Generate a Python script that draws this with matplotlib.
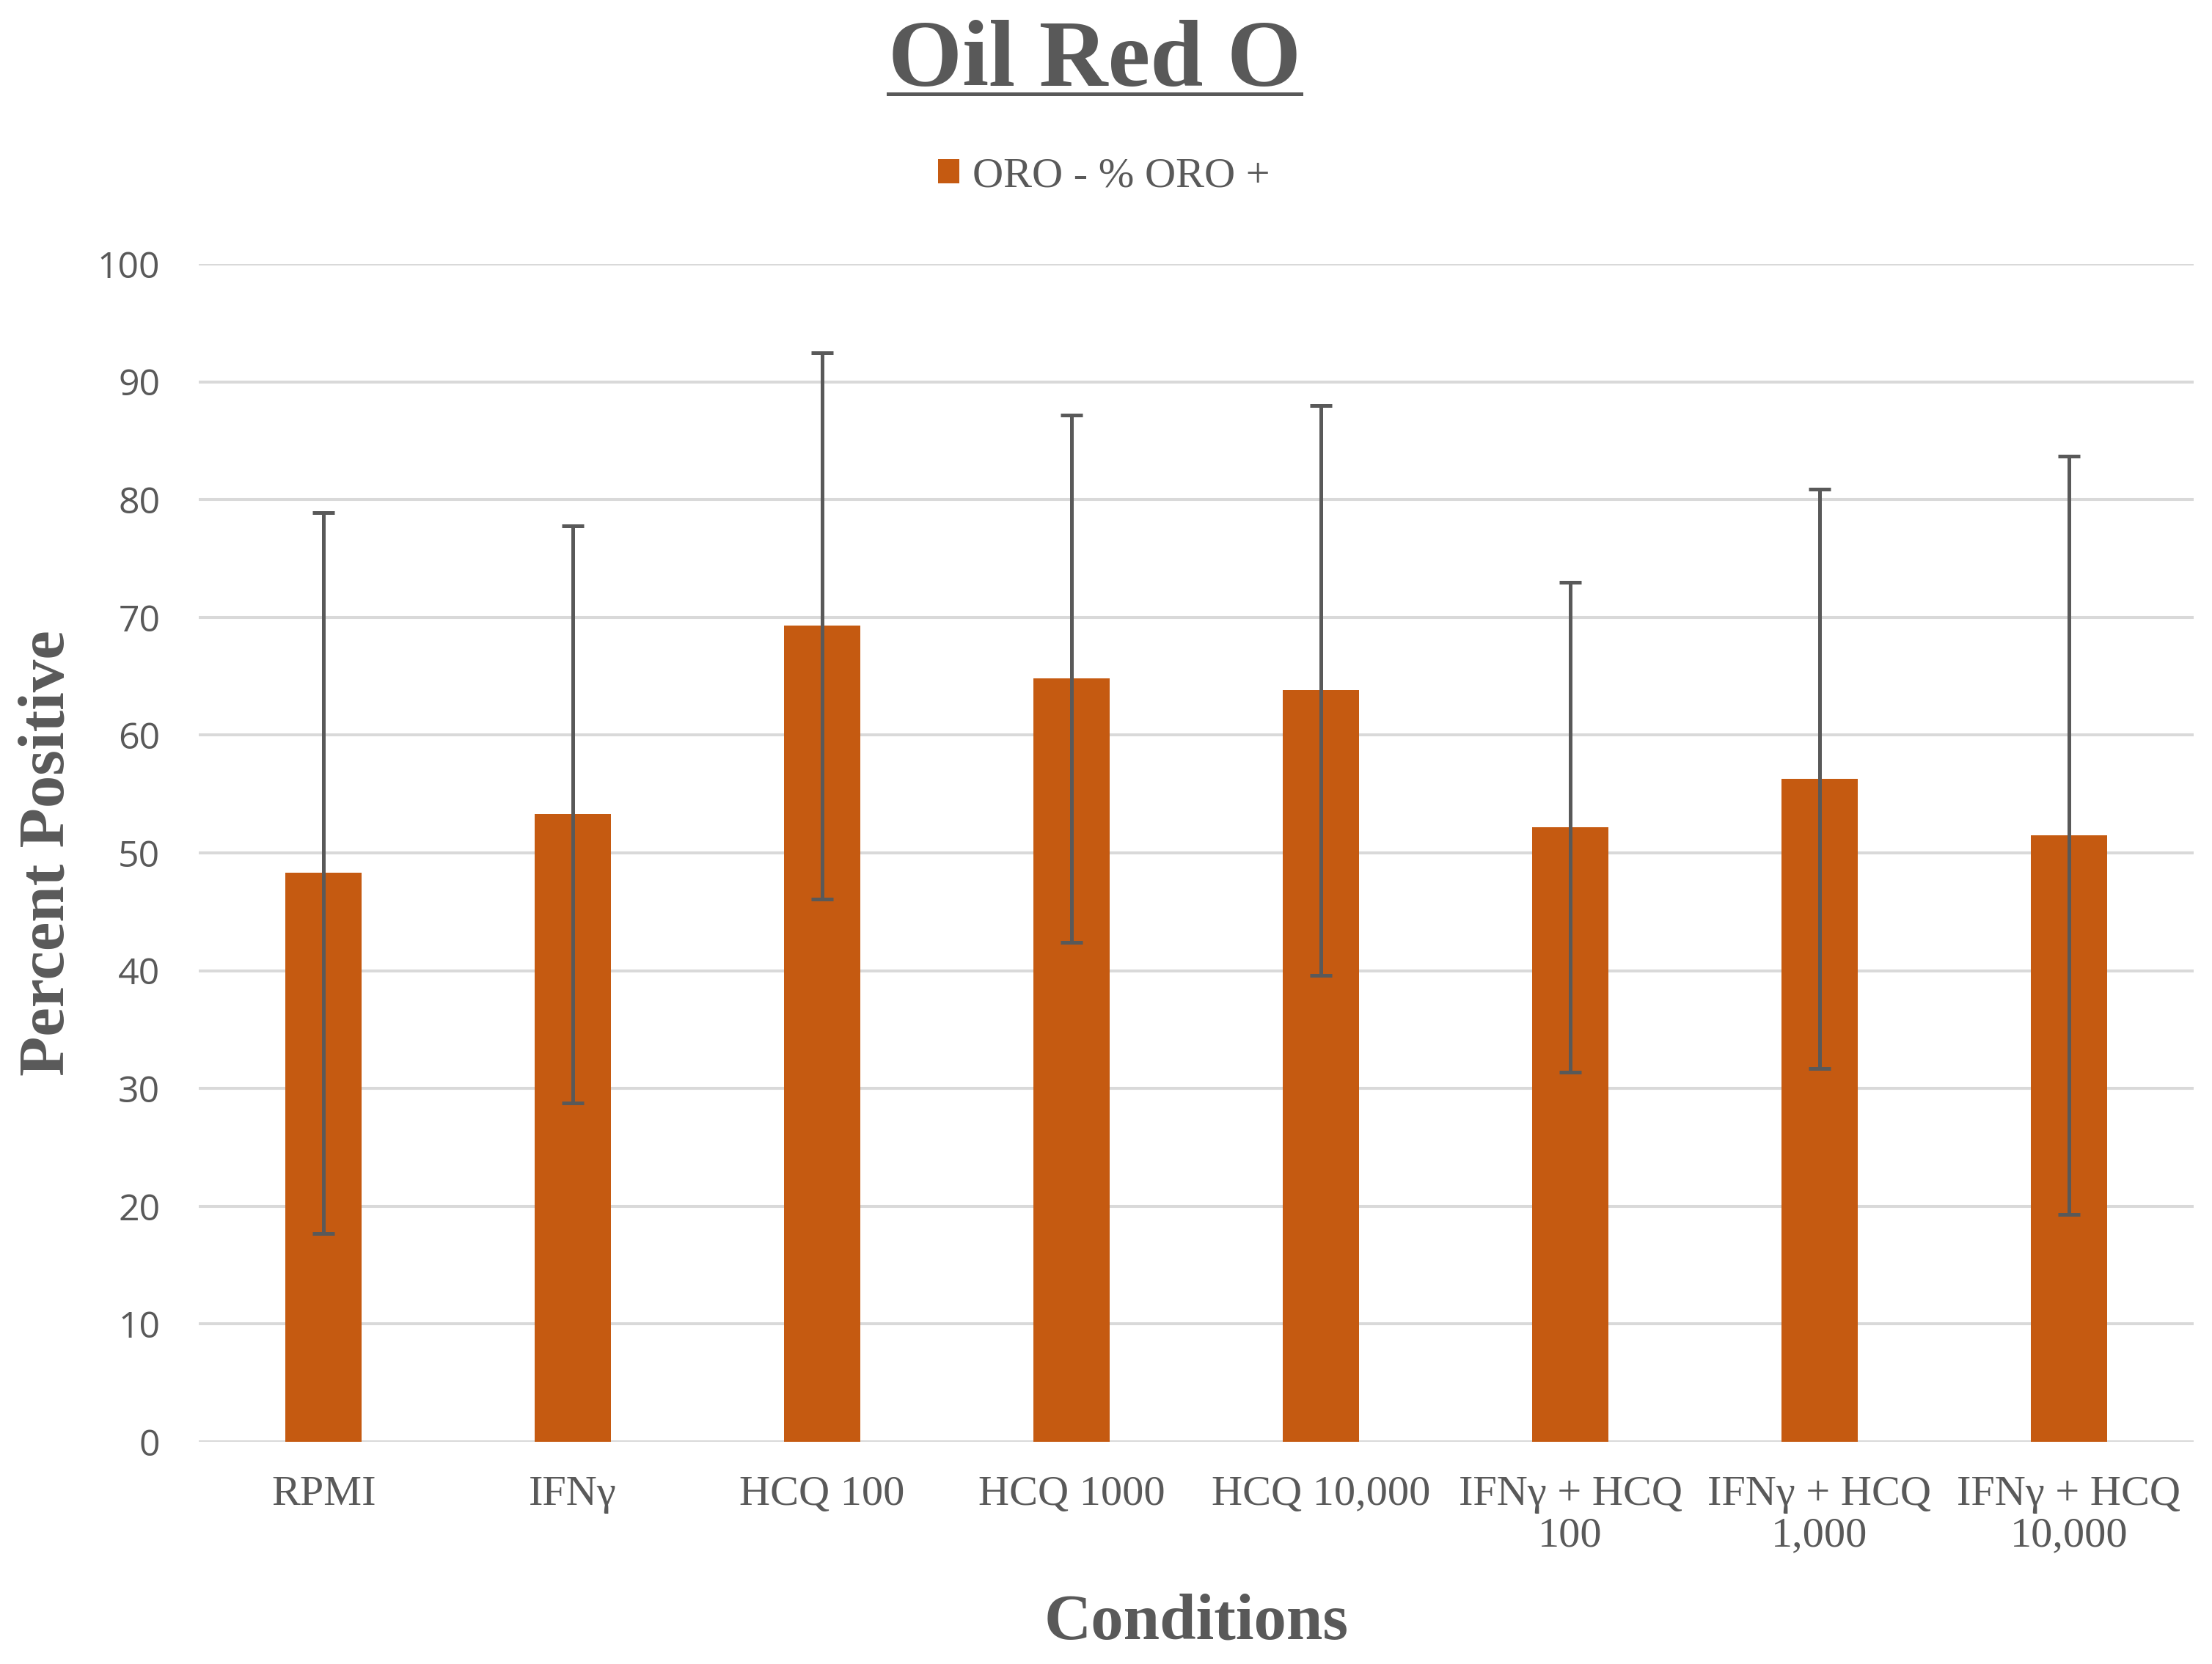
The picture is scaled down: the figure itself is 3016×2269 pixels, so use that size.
import matplotlib.pyplot as plt
from matplotlib.lines import Line2D
import numpy as np

conditions = ["RPMI", "IFNγ", "HCQ 100", "HCQ 1000", "HCQ 10,000",
              "IFNγ + HCQ\n100", "IFNγ + HCQ\n1,000", "IFNγ + HCQ\n10,000"]
percent_pos = [48.3, 53.3, 69.3, 64.8, 63.8, 52.2, 56.3, 51.5]
errors = [30.6, 24.5, 23.2, 22.4, 24.2, 20.8, 24.6, 32.2]
yticks = [0, 10, 20, 30, 40, 50, 60, 70, 80, 90, 100]

barColor = "#C55A11"
textColor = "#595959"
gridColor = "#D9D9D9"
serif = "Liberation Serif"

fig = plt.figure(figsize=(30.16, 22.69), dpi=100)
ax = fig.add_axes([0.0899, 0.1335, 0.9018, 0.7078])

x = np.arange(len(conditions))
ax.bar(x, percent_pos, width=0.306, color=barColor, zorder=2, label="ORO - % ORO +")
ax.errorbar(x, percent_pos, yerr=errors, fmt="none", ecolor=textColor,
            elinewidth=3.6, capsize=11, capthick=3.6, zorder=3)

ax.set_xlim(-0.5, len(conditions) - 0.5)
ax.set_ylim(0, 100)
ax.set_yticks(yticks)
ax.yaxis.grid(True, color=gridColor, linewidth=2.9, zorder=0)
ax.set_axisbelow(True)
for s in ax.spines.values():
    s.set_visible(False)
ax.tick_params(axis="both", length=0)
ax.tick_params(axis="y", pad=38)
ax.tick_params(axis="x", pad=33)

ax.set_xticks(x)
ax.set_xticklabels(conditions, fontfamily=serif, fontsize=42, color=textColor,
                   linespacing=1.12)
for lbl in ax.get_yticklabels():
    lbl.set_fontfamily("Open Sans")
    lbl.set_fontsize(36)
    lbl.set_color(textColor)

ax.set_ylabel("Percent Positive", fontfamily=serif, fontweight="bold",
              fontsize=64, color=textColor, labelpad=20)
ax.set_xlabel("Conditions", fontfamily=serif, fontweight="bold",
              fontsize=64, color=textColor, labelpad=37)

title = fig.text(0.495, 0.962, "Oil Red O", ha="center", va="center",
                 fontfamily=serif, fontweight="bold", fontsize=93.5, color=textColor)

leg = fig.legend(loc="center", bbox_to_anchor=(0.499, 0.894), frameon=False,
                 prop={"family": serif, "size": 42}, handlelength=0.5,
                 handleheight=0.5, handletextpad=0.3)
for t in leg.get_texts():
    t.set_color(textColor)

# underline the title
fig.canvas.draw()
bb = title.get_window_extent(fig.canvas.get_renderer()).transformed(fig.transFigure.inverted())
uy = 1 - 128 / 2269
fig.add_artist(Line2D([bb.x0, bb.x1], [uy, uy], transform=fig.transFigure,
                      color=textColor, linewidth=3.6))

fig.savefig("out.png", dpi=100)
